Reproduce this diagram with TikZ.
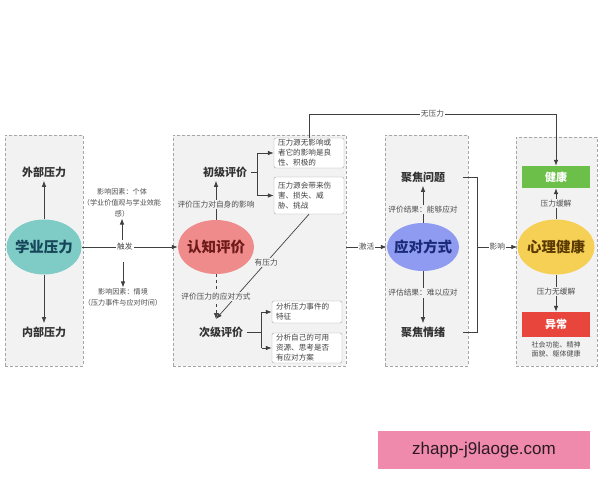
\documentclass[tikz,border=0pt]{standalone}
\usepackage{fontspec}
\setmainfont{Noto Sans CJK SC}
\newfontfamily\wmfont{Liberation Sans}
\usetikzlibrary{arrows.meta,calc,shapes.geometric}
\definecolor{panelfill}{HTML}{F2F2F2}
\definecolor{paneldraw}{HTML}{A6A6A6}
\definecolor{cA}{HTML}{7FCCC7}
\definecolor{tA}{HTML}{17465A}
\definecolor{cB}{HTML}{EF8B8B}
\definecolor{tB}{HTML}{6E1A1A}
\definecolor{cC}{HTML}{8E9BF0}
\definecolor{tC}{HTML}{1A2A78}
\definecolor{cD}{HTML}{F6CF55}
\definecolor{tD}{HTML}{5A3A00}
\definecolor{cG}{HTML}{6CC04A}
\definecolor{cR}{HTML}{E8453C}
\definecolor{cW}{HTML}{EF8AAC}
\definecolor{tW}{HTML}{2B1A22}
\begin{document}
\begin{tikzpicture}[x=1pt,y=-1pt,
  panel/.style={draw=paneldraw, fill=panelfill, dash pattern=on 3pt off 2pt, line width=0.6pt, inner sep=0pt, rectangle},
  head/.style={font=\fontsize{11}{12}\selectfont\bfseries, text=black!80},
  ell/.style={ellipse, inner sep=0pt, draw=none},
  elltext/.style={font=\fontsize{14.5}{16}\selectfont\bfseries},
  lbl/.style={font=\fontsize{7.7}{9}\selectfont, text=black!70, inner sep=1pt},
  note/.style={draw=black!35, fill=white, rounded corners=2pt, align=left, font=\fontsize{7.6}{10}\selectfont, text=black!75, inner sep=0pt, minimum width=70pt, text width=62pt},
  arr/.style={draw=black!75, line width=0.7pt, -{Latex[length=6pt,width=4.5pt]}},
  ln/.style={draw=black!75, line width=0.7pt},
  tag/.style={rectangle, inner sep=0pt, font=\fontsize{11}{12}\selectfont\bfseries, text=white, minimum width=68pt}
]
\useasboundingbox (0,0) rectangle (600,480);
\fill[white] (0,0) rectangle (600,480);

% panels
\node[panel, minimum width=78pt, minimum height=231pt] (p1) at (44,250.5) {};
\node[panel, minimum width=173pt, minimum height=231pt] (p2) at (259.5,250.5) {};
\node[panel, minimum width=83pt, minimum height=231pt] (p3) at (426.5,250.5) {};
\node[panel, minimum width=81pt, minimum height=229pt] (p4) at (556.5,251.5) {};

% panel 1
\node[ell, fill=cA, minimum width=75pt, minimum height=55pt] (e1) at (44,247) {};
\node[elltext, text=tA] (e1t) at (e1) {学业压力};
\node[head] (wb) at (44,172) {外部压力};
\node[head] (nb) at (44,332) {内部压力};
\draw[arr] (e1.north) -- (wb.south);
\draw[arr] (e1.south) -- (nb.north);

% panel 2
\node[ell, fill=cB, minimum width=76pt, minimum height=54pt] (e2) at (216,247) {};
\node[elltext, text=tB] (e2t) at (e2) {认知评价};
\node[head] (cj) at (225,172) {初级评价};
\node[head] (cj2) at (221,332) {次级评价};

% trigger
\draw[arr] (e1.east) -- node[lbl, fill=white, pos=0.45] (tr) {触发} (e2.west);
\coordinate (u1) at (122,240);
\node[lbl, align=center, font=\fontsize{7.1}{11}\selectfont] (f1) at (122,203) {影响因素：个体\\（学业价值观与学业效能\\感）};
\draw[arr] (u1) -- (f1.south);
\coordinate (d1) at (123,262);
\node[lbl, align=center, font=\fontsize{7.1}{11}\selectfont] (f2) at (123,297.5) {影响因素：情境\\（压力事件与应对时间）};
\draw[arr] (d1) -- (f2.north);

\draw[arr] (e2.north) -- node[lbl, fill=panelfill, pos=0.4] {评价压力对自身的影响} (e2.north |- cj.south);

\node[note, minimum height=30pt] (n1) at (309,153) {压力源无影响或\\者它的影响是良\\性、积极的};
\node[note, minimum height=37pt] (n2) at (309,195.5) {压力源会带来伤\\害、损失、威\\胁、挑战};
\node[note, minimum height=22pt] (n3) at (307,312) {分析压力事件的\\特征};
\node[note, minimum height=30pt] (n4) at (307,348) {分析自己的可用\\资源、思考是否\\有应对方案};

\draw[ln] (cj.east) -- ++(7,0) coordinate (bk1);
\draw[ln] (bk1 |- n1.west) -- (bk1 |- n2.west);
\draw[arr] (bk1 |- n1.west) -- (n1.west);
\draw[arr] (bk1 |- n2.west) -- (n2.west);

\draw[ln] (cj2.east) -- ++(15,0) coordinate (bk2);
\draw[ln] (bk2 |- n3.west) -- (bk2 |- n4.west);
\draw[arr] (bk2 |- n3.west) -- (n3.west);
\draw[arr] (bk2 |- n4.west) -- (n4.west);

\coordinate (sj) at (216,319);
\draw[arr] (n2.south) -- node[lbl, fill=panelfill, pos=0.46] {有压力} (sj);
\draw[arr, dashed] (e2.south) -- node[lbl, fill=panelfill, pos=0.5] {评价压力的应对方式} (sj);

% panel 3
\node[ell, fill=cC, minimum width=72pt, minimum height=48pt] (e3) at (423,247) {};
\node[elltext, text=tC] (e3t) at (e3) {应对方式};
\node[head] (jw) at (423,177) {聚焦问题};
\node[head] (jq) at (423,332) {聚焦情绪};
\draw[arr] (e3.north) -- node[lbl, fill=panelfill, pos=0.35] {评价结果：能够应对} (jw.south);
\draw[arr] (e3.south) -- node[lbl, fill=panelfill, pos=0.42] {评估结果：难以应对} (jq.north);
\draw[arr] (p2.east |- e3.west) -- node[lbl, fill=white] {激活} (e3.west);

% panel 4
\node[ell, fill=cD, minimum width=77pt, minimum height=55pt] (e4) at (556,247) {};
\node[elltext, text=tD] (e4t) at (e4) {心理健康};
\node[tag, fill=cG, minimum height=22pt] (jk) at (556,177) {健康};
\node[tag, fill=cR, minimum height=25pt] (yc) at (556,324.5) {异常};
\draw[arr] (e4.north) -- node[lbl, fill=panelfill] {压力缓解} (jk.south);
\draw[arr] (e4.south) -- node[lbl, fill=panelfill, pos=0.45] {压力无缓解} (yc.north);
\node[lbl, align=center, font=\fontsize{7}{9}\selectfont] (sh) at (556,349.5) {社会功能、精神\\面貌、躯体健康};

% bracket panel 3 -> panel 4
\draw[ln] ($(jw.east)+(14,0)$) -- ++(15,0) coordinate (br) |- ($(jq.east)+(14,0)$);
\draw[arr] (br |- e4.west) -- node[lbl, fill=white] {影响} (e4.west);

% no-pressure path
\coordinate (top) at (309,114);
\draw[arr] (n1.north) -- (top) -| node[lbl, fill=white, pos=0.25] {无压力} (jk.north);

% watermark
\node[fill=cW, minimum width=212pt, minimum height=38pt, font=\wmfont\fontsize{17}{18}\selectfont, text=tW] (wm) at (484,450) {zhapp-j9laoge.com};
\end{tikzpicture}
\end{document}
